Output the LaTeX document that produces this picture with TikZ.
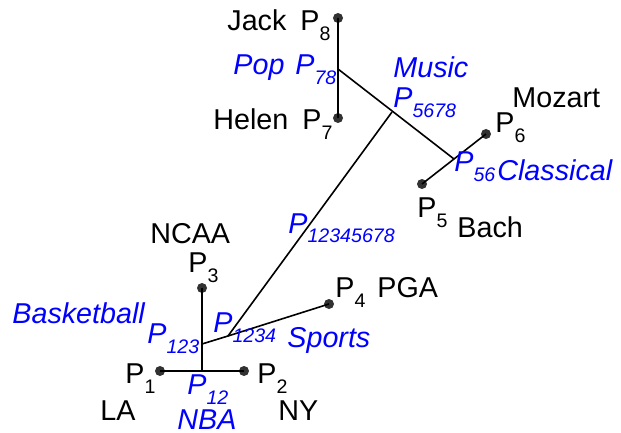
\documentclass[tikz,border=0pt]{standalone}
\usepackage{fontspec}
\setmainfont{Liberation Sans}
\definecolor{catblue}{RGB}{0,0,255}
\definecolor{dotgray}{RGB}{50,50,50}
\newcommand{\idx}[1]{\raisebox{-5pt}{\fontsize{9.8}{10}\selectfont #1}}
\tikzset{
  leaf/.style={circle,fill=dotgray,inner sep=0pt,minimum size=5pt},
  word/.style={anchor=base west,inner sep=0pt,font=\fontsize{14.35}{16}\selectfont},
  cat/.style={word,text=catblue,font=\fontsize{14.35}{16}\selectfont\itshape},
}
\begin{document}
\begin{tikzpicture}[x=0.5pt,y=-0.5pt]
                \useasboundingbox (0,0) rectangle (621,433);
                \coordinate (P78) at (338,69);
                \coordinate (P5678) at (392,112);
                \coordinate (P56) at (454,159);
                \coordinate (P1234) at (228,336);
                \coordinate (P123) at (202,344);
                \coordinate (P12) at (202,371);
                \node[leaf] (P8) at (338,18) {};
                \node[leaf] (P7) at (338,118) {};
                \node[leaf] (P6) at (486,134) {};
                \node[leaf] (P5) at (422,184) {};
                \node[leaf] (P3) at (202,288) {};
                \node[leaf] (P4) at (329,304) {};
                \node[leaf] (P1) at (160,371) {};
                \node[leaf] (P2) at (244,371) {};
                \draw[thick] (P8.center) -- (P7.center);
                \draw[thick] (P78) -- (P56);
                \draw[thick] (P6.center) -- (P5.center);
                \draw[thick] (P5678) -- (P1234);
                \draw[thick] (P123) -- (P1234) -- (P4.center);
                \draw[thick] (P3.center) -- (P12);
                \draw[thick] (P1.center) -- (P2.center);
                % people and places
                \node[word] (jack) at (227,31) {Jack};
                \node[word] (l8) at (300,31) {P\idx{8}};
                \node[word] (helen) at (213,130) {Helen};
                \node[word] (l7) at (302,130) {P\idx{7}};
                \node[word] (mozart) at (512,108) {Mozart};
                \node[word] (l6) at (495,133) {P\idx{6}};
                \node[word] (l5) at (417,217) {P\idx{5}};
                \node[word] (bach) at (457,237) {Bach};
                \node[word] (ncaa) at (150,243) {NCAA};
                \node[word] (l3) at (188,272) {P\idx{3}};
                \node[word] (l4) at (335,297) {P\idx{4}};
                \node[word] (pga) at (377,297) {PGA};
                \node[word] (l1) at (125,383) {P\idx{1}};
                \node[word] (la) at (100,420) {LA};
                \node[word] (l2) at (257,383) {P\idx{2}};
                \node[word] (ny) at (278,420) {NY};
                % categories
                \node[cat] (pop) at (233,75) {Pop};
                \node[cat] (l78) at (295,75) {P\idx{78}};
                \node[cat] (music) at (393,78) {Music};
                \node[cat] (l5678) at (393,108) {P\idx{5678}};
                \node[cat] (l56) at (454,171) {P\idx{56}};
                \node[cat] (classical) at (497,180) {Classical};
                \node[cat] (lall) at (288,233) {P\idx{12345678}};
                \node[cat] (basket) at (12,323) {Basketball};
                \node[cat] (l123) at (147,343) {P\idx{123}};
                \node[cat] (l1234) at (213,332) {P\idx{1234}};
                \node[cat] (sports) at (287,347) {Sports};
                \node[cat] (l12) at (187,394) {P\idx{12}};
                \node[cat] (nba) at (177,429) {NBA};
            \end{tikzpicture}
\end{document}
